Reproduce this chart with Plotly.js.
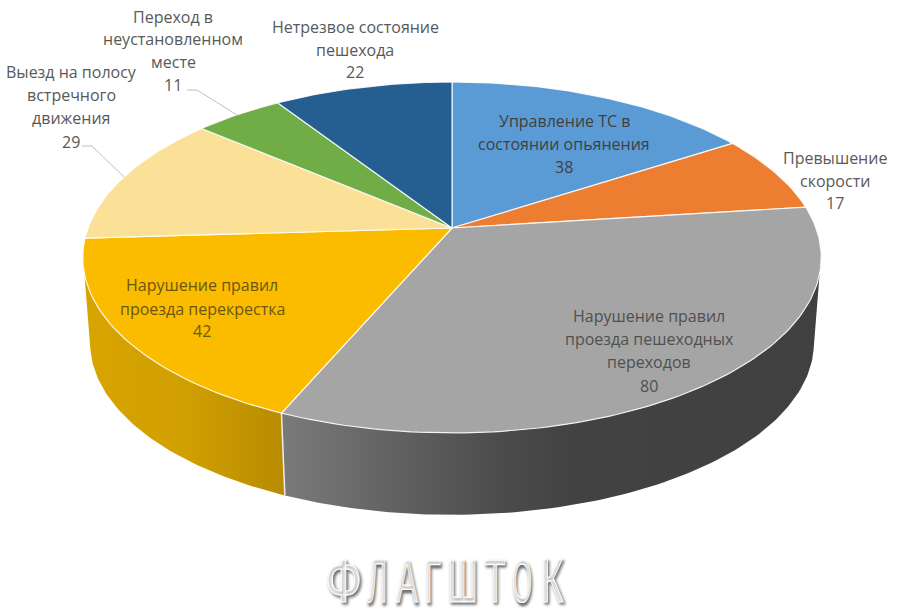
<!DOCTYPE html>
<html><head><meta charset="utf-8"><script src="https://cdn.plot.ly/plotly-3.0.1.min.js"></script>
<style>html,body{margin:0;padding:0;background:#fff}</style></head><body><div id="c" style="width:900px;height:616px"></div>
<script>
const categories=["Управление ТС в состоянии опьянения","Превышение скорости","Нарушение правил проезда пешеходных переходов","Нарушение правил проезда перекрестка","Выезд на полосу встречного движения","Переход в неустановленном месте","Нетрезвое состояние пешехода"];
const values=[38,17,80,42,29,11,22];
const colors=["#5B9BD5","#ED7D31","#A5A5A5","#FBBC00","#FBE198","#70AD47","#255E91"];
const labelLines=[["Управление ТС в","состоянии опьянения","38"],["Превышение","скорости","17"],["Нарушение правил","проезда пешеходных","переходов","80"],["Нарушение правил","проезда перекрестка","42"],["Выезд на полосу","встречного","движения","29"],["Переход в","неустановленном","месте","11"],["Нетрезвое состояние","пешехода","22"]];
const labelX=[564,835,649,202,71,173,355];
const labelY=[[121,144,167],[158,181,203],[316,339,362,386],[285,309,331],[72,95,118,142],[17,39,62,85],[27,50,72]];
const labelColor=["#404040","#595959","#505050","#6b5610","#595959","#595959","#595959"];
const watermark=["Ф","Л","А","Г","Ш","Т","О","К"];
const watermarkX=[343,377,407,433,462,495,522,552];
const watermarkW=[37,20,22,16,30,21,20,23];

const total=values.reduce((a,b)=>a+b,0);
const P=0.168,K=170.5,R=364,CX=452,CY=228,CY2=314,SC=0.98;
function pt(deg,bottom){const t=deg*Math.PI/180,s=1/(1+P*Math.cos(t));const f=bottom?SC:1;
 return [CX+R*f*Math.sin(t)*s,(bottom?CY2:CY)-K*f*Math.cos(t)*s];}
function arc(a,b,bottom){const n=Math.max(2,Math.ceil(Math.abs(b-a)));const o=[];for(let i=0;i<=n;i++)o.push(pt(a+(b-a)*i/n,bottom));return o;}
let cum=[0];values.forEach(v=>cum.push(cum[cum.length-1]+v/total*360));
const traces=[];
function poly(points,extra){const p=points.concat([points[0]]);
 traces.push(Object.assign({type:"scatter",mode:"lines",x:p.map(q=>q[0]),y:p.map(q=>q[1]),fill:"toself",hoverinfo:"skip",showlegend:false},extra));}
// side walls
poly(arc(105,cum[3],false).concat(arc(cum[3],102,true)),{line:{color:"rgba(255,255,255,0)",width:0},fillgradient:{type:"horizontal",colorscale:[[0,"#7A7A7A"],[0.4,"#4C4C4C"],[0.55,"#424242"],[1,"#404040"]]}});
poly(arc(cum[3],255,false).concat(arc(258,cum[3],true)),{line:{color:"rgba(255,255,255,0)",width:0},fillgradient:{type:"horizontal",colorscale:[[0,"#D8A400"],[0.5,"#D0A000"],[1,"#B98B00"]]}});
traces.push({type:"scatter",mode:"lines",x:[pt(cum[3],false)[0],pt(cum[3],true)[0]],y:[pt(cum[3],false)[1],pt(cum[3],true)[1]],line:{color:"#EDEDED",width:1.5},hoverinfo:"skip",showlegend:false});
// top slices
values.forEach((v,i)=>{poly([[CX,CY]].concat(arc(cum[i],cum[i+1],false)),{name:categories[i],fillcolor:colors[i],line:{color:"rgba(255,255,255,0.85)",width:1.2}});});
// leaders
const leaders=[[[82,92,124],[146,146,177]],[[187,197,237],[90,90,115]]];
leaders.forEach(l=>traces.push({type:"scatter",mode:"lines",x:l[0],y:l[1],line:{color:"#BFBFBF",width:1},hoverinfo:"skip",showlegend:false}));

const annotations=[];
labelLines.forEach((ls,i)=>ls.forEach((t,j)=>annotations.push({x:labelX[i],y:labelY[i][j],xref:"x",yref:"y",text:t,showarrow:false,xanchor:"center",yanchor:"middle",font:{family:"Open Sans",size:16,color:labelColor[i]}})));
watermark.forEach((t,i)=>annotations.push({x:watermarkX[i],y:580,xref:"x",yref:"y",text:t,showarrow:false,xanchor:"center",yanchor:"middle",font:{family:"Liberation Sans Narrow, Liberation Sans",size:62,color:"#ffffff",shadow:"2px 2px 3px #666666"}}));
Plotly.newPlot("c",traces,{width:900,height:616,margin:{l:0,r:0,t:0,b:0},paper_bgcolor:"#fff",plot_bgcolor:"#fff",showlegend:false,
 xaxis:{range:[0,900],visible:false,fixedrange:true},yaxis:{range:[616,0],visible:false,fixedrange:true},annotations:annotations},{displayModeBar:false,staticPlot:true}).then(gd=>{
  gd.querySelectorAll(".annotation-text").forEach(el=>{
    const i=watermark.indexOf(el.textContent);
    if(i<0)return;
    const b=el.getBBox();const c=b.x+b.width/2;const sx=watermarkW[i]/b.width;
    el.setAttribute("transform","translate("+c+",0) scale("+sx+",1) translate("+(-c)+",0)");
    el.style.stroke="#ffffff";el.style.strokeWidth="1.2px";
  });
 });
</script></body></html>
